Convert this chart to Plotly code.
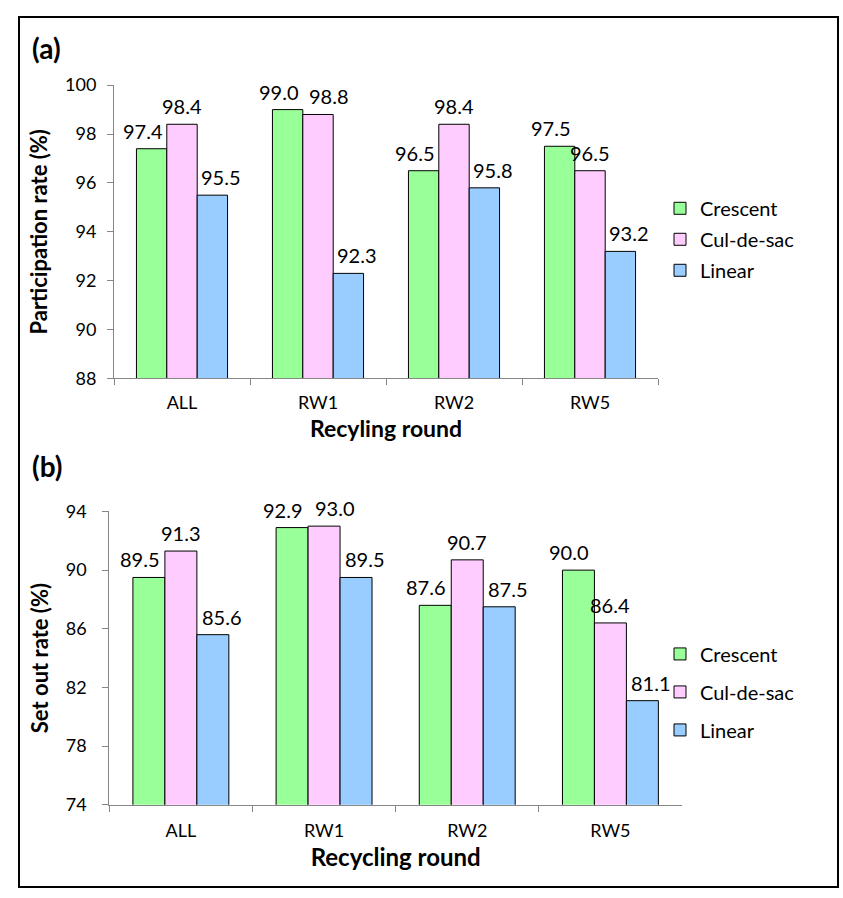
import plotly.graph_objects as go

categories = ["ALL", "RW1", "RW2", "RW5"]
series_names = ["Crescent", "Cul-de-sac", "Linear"]
participation_crescent = [97.4, 99.0, 96.5, 97.5]
participation_culdesac = [98.4, 98.8, 98.4, 96.5]
participation_linear = [95.5, 92.3, 95.8, 93.2]
setout_crescent = [89.5, 92.9, 87.6, 90.0]
setout_culdesac = [91.3, 93.0, 90.7, 86.4]
setout_linear = [85.6, 89.5, 87.5, 81.1]
colors = ["#99FF99", "#FFCCFF", "#99CCFF"]

FONT = "Lato, Carlito, Calibri, sans-serif"
W, H = 843, 898
BARGAP = 0.33
LABEL_SIZE = 20

# plot areas in pixels (left, right, top, bottom)
A = dict(l=114, r=658, t=75, b=375.7)
B = dict(l=109.3, r=682, t=512, b=812.7)

fig = go.Figure()

label_side_shift = [-9, 0, 9]


def add_panel(values, xa, ya, legend, box, yrange):
    cat_px = (box["r"] - box["l"]) / len(categories)
    bar_px = cat_px * (1 - BARGAP) / len(series_names)
    px_per_unit = (box["b"] - box["t"]) / (yrange[1] - yrange[0])
    for i, (name, vals, col) in enumerate(zip(series_names, values, colors)):
        fig.add_trace(go.Bar(
            x=categories, y=vals, name=name,
            marker=dict(color=col, line=dict(color="black", width=1)),
            xaxis=xa, yaxis=ya, legend=legend, legendgroup=legend + name,
        ))
        for k, (c, v) in enumerate(zip(categories, vals)):
            shift = label_side_shift[i]
            # middle label is pushed right when it would collide with the left label
            if i == 1 and abs(v - values[0][k]) * px_per_unit < LABEL_SIZE * 1.1:
                shift = 11
            fig.add_annotation(
                x=c, y=v, xref=xa, yref=ya, text=f"{v:.1f}", showarrow=False,
                xanchor="center", yanchor="bottom", yshift=4,
                xshift=(i - 1) * bar_px + shift,
                font=dict(size=LABEL_SIZE, family=FONT, color="black"),
            )


add_panel([participation_crescent, participation_culdesac, participation_linear], "x", "y", "legend", A, [88, 100])
add_panel([setout_crescent, setout_culdesac, setout_linear], "x2", "y2", "legend2", B, [74, 94])

axis_common = dict(showline=True, linecolor="#868686", linewidth=1, ticks="outside",
                   tickcolor="#868686", ticklen=6, showgrid=False, zeroline=False,
                   tickfont=dict(size=18, family=FONT, color="black"))

fig.update_layout(
    width=W, height=H, margin=dict(l=0, r=0, t=0, b=0),
    paper_bgcolor="white", plot_bgcolor="white",
    barmode="group", bargap=BARGAP, bargroupgap=0,
    font=dict(family=FONT, color="black"),
    xaxis=dict(domain=[A["l"] / W, A["r"] / W], anchor="y", tickson="boundaries", ticklabelstandoff=8,
               title=dict(text="<b>Recyling round</b>", font=dict(size=23, family=FONT), standoff=8),
               **axis_common),
    yaxis=dict(domain=[1 - A["b"] / H, 1 - A["t"] / H], anchor="x", range=[88, 100], dtick=2,
               ticklabelstandoff=7,
               title=dict(text="<b>Participation rate (%)</b>", font=dict(size=22, family=FONT), standoff=11),
               **axis_common),
    xaxis2=dict(domain=[B["l"] / W, B["r"] / W], anchor="y2", tickson="boundaries", ticklabelstandoff=10,
                title=dict(text="<b>Recycling round</b>", font=dict(size=24, family=FONT), standoff=8),
                **axis_common),
    yaxis2=dict(domain=[1 - B["b"] / H, 1 - B["t"] / H], anchor="x2", range=[74, 94], tick0=74, dtick=4,
                ticklabelstandoff=12,
                title=dict(text="<b>Set out rate (%)</b>", font=dict(size=22, family=FONT), standoff=11),
                **axis_common),
    legend=dict(x=660 / W, xanchor="left", y=1 - 233 / H, yanchor="middle",
                font=dict(size=20, family=FONT), tracegroupgap=2, bgcolor="rgba(0,0,0,0)"),
    legend2=dict(x=660 / W, xanchor="left", y=1 - 697 / H, yanchor="middle",
                 font=dict(size=20, family=FONT), tracegroupgap=9, bgcolor="rgba(0,0,0,0)"),
    showlegend=True,
)

fig.add_shape(type="rect", xref="paper", yref="paper",
              x0=19 / W, x1=838 / W, y0=1 - 897 / H, y1=1 - 5 / H,
              line=dict(color="black", width=2))

fig.add_annotation(text="<b>(a)</b>", xref="paper", yref="paper", x=30 / W, y=1 - 37 / H,
                   xanchor="left", yanchor="middle", showarrow=False, font=dict(size=28, family=FONT))
fig.add_annotation(text="<b>(b)</b>", xref="paper", yref="paper", x=30 / W, y=1 - 465 / H,
                   xanchor="left", yanchor="middle", showarrow=False, font=dict(size=28, family=FONT))

fig.write_html(
    "out.html",
    config={"displayModeBar": False},
    post_script=(
        "var gd=document.getElementById('{plot_id}');"
        "gd.style.position='fixed';gd.style.left='0px';gd.style.top='0px';"
        "document.body.style.margin='0';document.documentElement.style.overflow='hidden';"
    ),
)
